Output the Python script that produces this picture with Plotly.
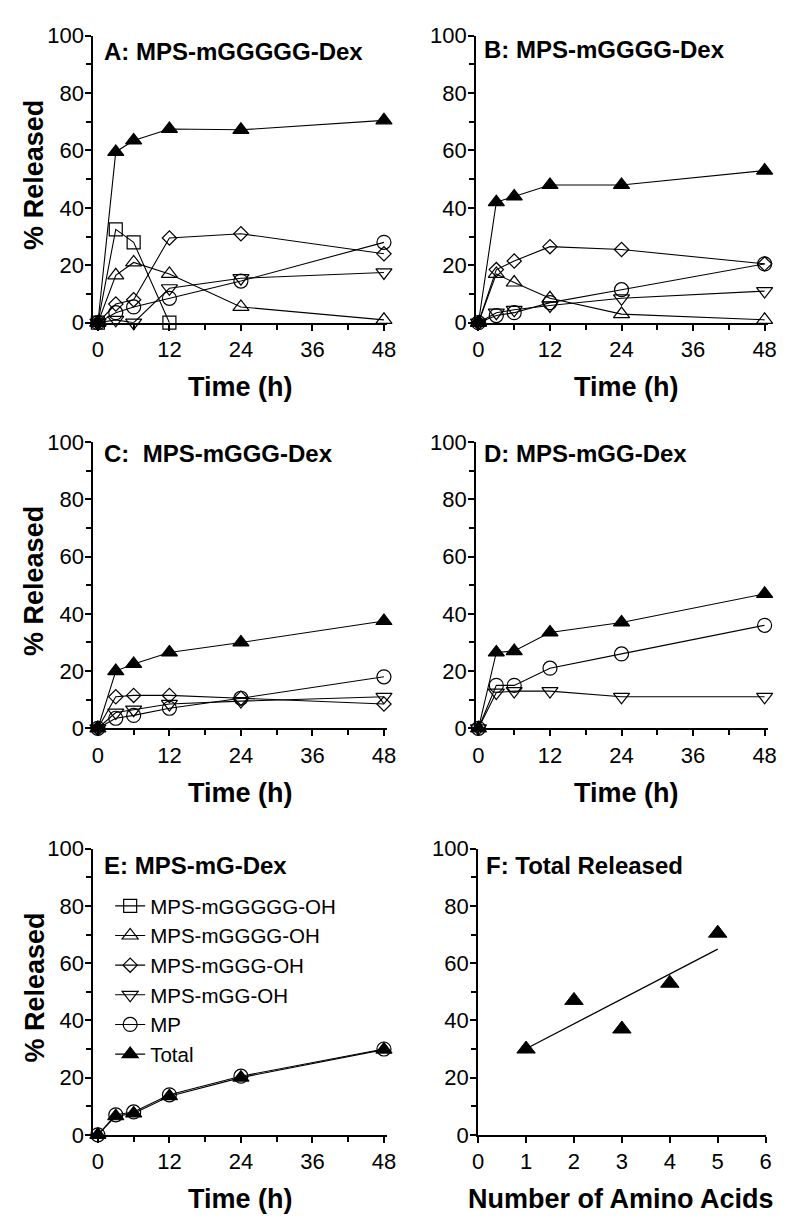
import numpy as np
import plotly.graph_objects as go

# ---------------- data ----------------
time_h = [0, 3, 6, 12, 24, 48]

A_mgggggoh = [0, 32.5, 28, 0, None, None]
A_mggggoh = [0, 16.5, 21, 17, 5.5, 1]
A_mgggoh = [0, 6.5, 8, 29.5, 31, 24]
A_mggoh = [0, 1, 0, 12, 15.5, 17.5]
A_mp = [0, 3.5, 5.5, 8.5, 14.5, 28]
A_total = [0, 59.5, 63.5, 67.5, 67.2, 70.5]

B_mggggoh = [0, 17, 14, 8.5, 3, 1]
B_mgggoh = [0, 18.5, 21.5, 26.5, 25.5, 20.5]
B_mggoh = [0, 3.5, 4.5, 6, 8.5, 11]
B_mp = [0, 2.5, 3.5, 7, 11.5, 20.5]
B_total = [0, 42, 44, 48, 48, 53]

C_mgggoh = [0, 11, 11.5, 11.5, 10.5, 8.5]
C_mggoh = [0, 5.5, 6.5, 8.5, 9.5, 11]
C_mp = [0, 3.5, 4.5, 7, 10.5, 18]
C_total = [0, 20, 22.5, 26.5, 30, 37.5]

D_mggoh = [0, 12.5, 13, 13, 11, 11]
D_mp = [0, 15, 15, 21, 26, 36]
D_total = [0, 26.5, 27, 33.5, 37, 47]

E_mp = [0, 7, 8, 14, 20.5, 30]
E_total = [0, 6.5, 7.5, 13.5, 20, 29.8]

amino_acids = [1, 2, 3, 4, 5]
total_48h = [30, 47, 37, 53, 70.5]

panel_titles = ["A: MPS-mGGGGG-Dex", "B: MPS-mGGGG-Dex", "C:  MPS-mGGG-Dex",
                "D: MPS-mGG-Dex", "E: MPS-mG-Dex", "F: Total Released"]
time_ticks = [0, 12, 24, 36, 48]

# ---------------- styling ----------------
W, H = 800, 1228
FONT = "Arial, Liberation Sans, Helvetica, sans-serif"

style = {
    "MPS-mGGGGG-OH": dict(symbol="square-open", size=13),
    "MPS-mGGGG-OH": dict(symbol="triangle-up-open", size=14),
    "MPS-mGGG-OH": dict(symbol="diamond-open", size=11),
    "MPS-mGG-OH": dict(symbol="triangle-down-open", size=14),
    "MP": dict(symbol="circle-open", size=14),
    "Total": dict(symbol="triangle-up", size=14),
}

panel_series = [
    [("MPS-mGGGGG-OH", A_mgggggoh), ("MPS-mGGGG-OH", A_mggggoh), ("MPS-mGGG-OH", A_mgggoh),
     ("MPS-mGG-OH", A_mggoh), ("MP", A_mp), ("Total", A_total)],
    [("MPS-mGGGG-OH", B_mggggoh), ("MPS-mGGG-OH", B_mgggoh), ("MPS-mGG-OH", B_mggoh),
     ("MP", B_mp), ("Total", B_total)],
    [("MPS-mGGG-OH", C_mgggoh), ("MPS-mGG-OH", C_mggoh), ("MP", C_mp), ("Total", C_total)],
    [("MPS-mGG-OH", D_mggoh), ("MP", D_mp), ("Total", D_total)],
    [("MP", E_mp), ("Total", E_total)],
]

# panel geometry in pixels: (x left, x right), (y top, y bottom), x range
geom = [
    ((81, 380), (16, 309), [-0.74, 48.49]),
    ((471, 768), (16, 309), [-0.38, 48.5]),
    ((81, 380), (431, 723), [-0.74, 48.49]),
    ((471, 768), (431, 723), [-0.38, 48.5]),
    ((81, 380), (846, 1138), [-0.74, 48.49]),
    ((473, 766), (846, 1138), [0, 6]),
]

fig = go.Figure()

for i, series in enumerate(panel_series):
    xa = "x" if i == 0 else f"x{i+1}"
    ya = "y" if i == 0 else f"y{i+1}"
    for name, vals in series:
        st = style[name]
        fig.add_trace(go.Scatter(
            x=time_h, y=vals, mode="lines+markers", name=name,
            legendgroup=name, showlegend=(i == 0),
            xaxis=xa, yaxis=ya, cliponaxis=False, connectgaps=False,
            line=dict(color="black", width=1.1),
            marker=dict(symbol=st["symbol"], size=st["size"], color="black",
                        line=dict(color="black", width=1.2)),
        ))

# Panel F
slope, intercept = np.polyfit(amino_acids, total_48h, 1)
fit_x = [min(amino_acids), max(amino_acids)]
fit_y = [slope * v + intercept for v in fit_x]
fig.add_trace(go.Scatter(x=fit_x, y=fit_y, mode="lines", showlegend=False,
                         xaxis="x6", yaxis="y6", cliponaxis=False,
                         line=dict(color="black", width=1.3)))
fig.add_trace(go.Scatter(x=amino_acids, y=total_48h, mode="markers", showlegend=False,
                         xaxis="x6", yaxis="y6", cliponaxis=False,
                         marker=dict(symbol="triangle-up", size=16, color="black",
                                     line=dict(color="black", width=1))))

layout = dict(
    width=W, height=H, margin=dict(l=0, r=0, t=0, b=0),
    paper_bgcolor="white", plot_bgcolor="white",
    font=dict(family=FONT, color="black"),
    legend=dict(x=98 / W, y=1 - 884 / H, xanchor="left", yanchor="top",
                font=dict(size=20.5, family=FONT, color="black"),
                bgcolor="rgba(0,0,0,0)", tracegroupgap=0, itemwidth=30),
    showlegend=True,
)

annotations = []
for i, ((xl, xr), (yt, yb), xr_range) in enumerate(geom):
    xkey = "xaxis" if i == 0 else f"xaxis{i+1}"
    ykey = "yaxis" if i == 0 else f"yaxis{i+1}"
    xid = "x" if i == 0 else f"x{i+1}"
    yid = "y" if i == 0 else f"y{i+1}"
    xaxis = dict(domain=[xl / W, xr / W], range=xr_range, anchor=yid,
                 showline=True, linecolor="black", linewidth=2,
                 showgrid=False, zeroline=False, ticks="outside", ticklen=6,
                 tickwidth=1.5, tickcolor="black",
                 tickfont=dict(size=22, family=FONT, color="black"))
    if i < 5:
        xaxis.update(tickmode="array", tickvals=time_ticks,
                     minor=dict(tickmode="linear", tick0=0, dtick=6, ticks="outside",
                                ticklen=5, tickwidth=1.5, tickcolor="black"))
    else:
        xaxis.update(tickmode="linear", tick0=0, dtick=1)
    yaxis = dict(domain=[1 - yb / H, 1 - yt / H], range=[0, 100], anchor=xid,
                 showline=True, linecolor="black", linewidth=2,
                 showgrid=False, zeroline=False, ticks="outside", ticklen=6,
                 tickwidth=1.5, tickcolor="black", tickmode="linear", tick0=0, dtick=20,
                 ticklabelstandoff=-3,
                 minor=dict(tickmode="linear", tick0=0, dtick=10, ticks="outside",
                            ticklen=5, tickwidth=1.5, tickcolor="black"),
                 tickfont=dict(size=22, family=FONT, color="black"))
    layout[xkey] = xaxis
    layout[ykey] = yaxis

    # panel title
    title_x = xl + 9 if i % 2 == 0 else xl + 6
    title_y = [32, 30, 442, 442, 863, 863][i]
    annotations.append(dict(text=f"<b>{panel_titles[i]}</b>", x=title_x / W, y=1 - title_y / H,
                            xref="paper", yref="paper", xanchor="left", yanchor="middle",
                            showarrow=False, font=dict(size=24, family=FONT, color="black")))
    # x title
    xt = "Time (h)" if i < 5 else "Number of Amino Acids"
    xc = [231, 624, 231, 624, 231, 619][i]
    annotations.append(dict(text=f"<b>{xt}</b>", x=xc / W, y=1 - (yb + 66) / H,
                            xref="paper", yref="paper", xanchor="center", yanchor="middle",
                            showarrow=False, font=dict(size=27, family=FONT, color="black")))
    # y title (left column)
    if i % 2 == 0 and i < 5:
        annotations.append(dict(text="<b>% Released</b>", x=21 / W, y=1 - ((yt + yb) / 2 - 4) / H,
                                xref="paper", yref="paper", xanchor="center", yanchor="middle",
                                textangle=-90, showarrow=False,
                                font=dict(size=27, family=FONT, color="black")))

layout["annotations"] = annotations
fig.update_layout(**layout)

fig.write_html("out.html")
